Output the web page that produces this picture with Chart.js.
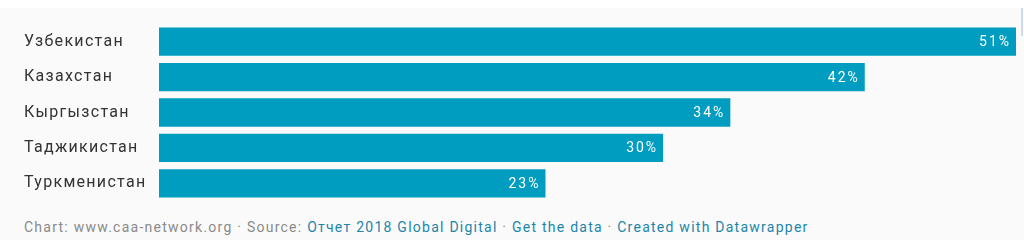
<!DOCTYPE html>
<html>
<head>
<meta charset="utf-8">
<script src="https://cdn.jsdelivr.net/npm/chart.js@4"></script>
<style>
 html, body {margin:0; padding:0; background:#ffffff; font-family:Roboto, sans-serif;}
 #wrap   {position:relative; width:1024px; height:246px; overflow:hidden;}
 #panel  {position:absolute; left:0; top:8px; width:1024px; height:232px; background:#fafafa;}
 #edge   {position:absolute; left:1021px; top:8px; width:2px; height:28px; background:#d3dbe2;}
 #chart  {position:absolute; left:0; top:0;}
 #footer {position:absolute; left:24px; top:219px; font-size:14px; letter-spacing:1.25px; color:#8a8a8a; white-space:nowrap;}
 #footer a {color:#1d86a8; text-decoration:none;}
</style>
</head>
<body>
<div id="wrap">
 <div id="panel"></div>
 <div id="edge"></div>
 <canvas id="chart" width="1024" height="215"></canvas>
 <div id="footer">Chart: www.caa-network.org · Source: <a>Отчет 2018 Global Digital</a> · <a>Get the data</a> · <a>Created with Datawrapper</a></div>
</div>
<script>
// DATA
var countries = ["Узбекистан", "Казахстан", "Кыргызстан", "Таджикистан", "Туркменистан"];
var shares    = [51, 42, 34, 30, 23];

var bar_color = "#019dc0";


// WIDE TEXT, LIKE THE ORIGINAL
var spacing =
{
 id: "spacing",
 beforeDraw: function(chart)
 {
  chart.ctx.letterSpacing = "1.3px";
 }
};


// VALUE LABELS INSIDE BARS
var value_labels =
{
 id: "value_labels",
 afterDatasetsDraw: function(chart)
 {
  var ctx  = chart.ctx;
  var meta = chart.getDatasetMeta(0);
  
  ctx.save();
  ctx.letterSpacing = "2px";
  ctx.font          = "14px Roboto";
  ctx.fillStyle     = "#ffffff";
  ctx.textAlign     = "right";
  ctx.textBaseline  = "middle";
  
  meta.data.forEach(function(bar, i)
  {
   ctx.fillText(shares[i] + "%", bar.x - 5, bar.y + 1);
  });
  
  ctx.restore();
 }
};


var config =
{
 type: "bar",
 data:
 {
  labels:   countries,
  datasets: [{data: shares, backgroundColor: bar_color, barPercentage: 0.8, categoryPercentage: 1}]
 },
 options:
 {
  indexAxis:  "y",
  responsive: false,
  animation:  false,
  layout:     {padding: {left: 24, right: 8, top: 24, bottom: 14}},
  plugins:    {legend: {display: false}, tooltip: {enabled: false}},
  scales:
  {
   x: {display: false, min: 0, max: 51},
   y:
   {
    grid:    {display: false},
    border:  {display: false},
    ticks:   {crossAlign: "far", color: "#333333", font: {family: "Roboto", size: 16}},
    afterFit: function(scale) { scale.width = 135; }
   }
  }
 },
 plugins: [spacing, value_labels]
};

new Chart(document.getElementById("chart").getContext("2d"), config);
</script>
</body>
</html>
